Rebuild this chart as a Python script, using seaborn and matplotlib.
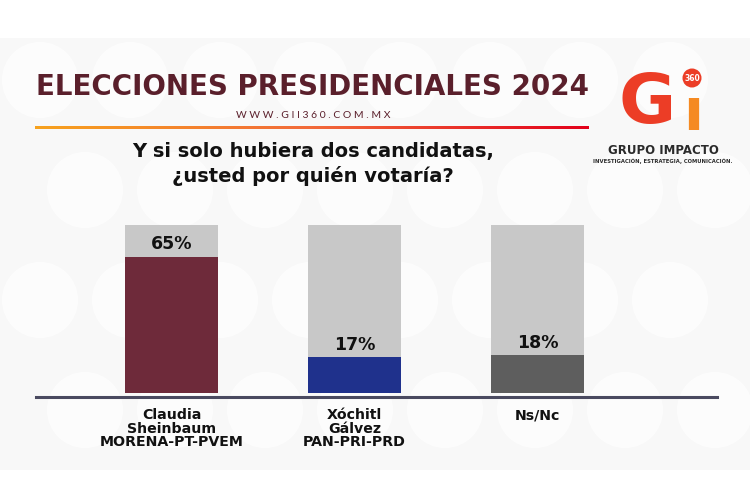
import numpy as np
import matplotlib.pyplot as plt
import seaborn as sns
import pandas as pd
from matplotlib.patches import Circle, Rectangle

# data
candidatos = ["Claudia\nSheinbaum\nMORENA-PT-PVEM", "Xóchitl\nGálvez\nPAN-PRI-PRD", "Ns/Nc"]
valores = [65, 17, 18]
fondo = [80, 80, 80]
colores = ["#6e2a3a", "#1f318c", "#5e5e5e"]
etiquetas = ["65%", "17%", "18%"]

df = pd.DataFrame({"candidato": candidatos, "valor": valores, "fondo": fondo})

sns.set_theme(style="white")
plt.rcParams["font.family"] = ["DejaVu Sans"]
HEAVY = ["DejaVu Sans"]

fig = plt.figure(figsize=(7.5, 5), dpi=100)
fig.patch.set_facecolor("white")

# decorative background pattern
bg = fig.add_axes([0, 0, 1, 1], zorder=-5)
bg.set_xlim(0, 750)
bg.set_ylim(500, 0)
bg.axis("off")
bg.add_patch(Rectangle((0, 38), 750, 432, color="#f8f8f8", lw=0))
for cx in range(40, 760, 90):
    for cy in range(80, 480, 110):
        bg.add_patch(Circle((cx + (cy // 110) % 2 * 45, cy), 38, color="white", lw=0, alpha=0.7))

# title block
fig.text(313 / 750, 1 - 87 / 500, "ELECCIONES PRESIDENCIALES 2024", ha="center", va="center",
         fontsize=20, fontweight="bold", color="#5a1f2b", family=HEAVY)
fig.text(313 / 750, 1 - 116 / 500, "W W W . G I I 3 6 0 . C O M . M X", ha="center", va="center",
         fontsize=7.5, color="#5a1f2b", family=["Lato", "DejaVu Sans"])

# gradient rule
grad = fig.add_axes([35 / 750, 1 - 129 / 500, 554 / 750, 3 / 500])
grad.imshow(np.linspace(0, 1, 256).reshape(1, -1), aspect="auto",
            cmap=sns.blend_palette(["#f7a21e", "#f26a3a", "#e3001b"], as_cmap=True))
grad.axis("off")

fig.text(313 / 750, 1 - 164 / 500, "Y si solo hubiera dos candidatas,\n¿usted por quién votaría?",
         ha="center", va="center", fontsize=14, fontweight="bold", color="#111111",
         linespacing=1.3, family=HEAVY)

# logo
fig.text(647 / 750, 1 - 104 / 500, "G", ha="center", va="center", fontsize=50,
         fontweight="bold", color="#ec3d26", family=HEAVY)
fig.text(693 / 750, 1 - 113 / 500, "ı", ha="center", va="center", fontsize=42,
         fontweight="bold", color="#f58a22", family=HEAVY)
bg.add_patch(Circle((692, 78), 9.5, color="#ec3d26", lw=0, zorder=3))
bg.text(692, 78.5, "360", ha="center", va="center", fontsize=5.5, fontweight="bold", color="white", zorder=4)
fig.text(663 / 750, 1 - 151 / 500, "GRUPO IMPACTO", ha="center", va="center", fontsize=8.5,
         fontweight="bold", color="#2b2b2b", family=HEAVY)
fig.text(663 / 750, 1 - 161 / 500, "INVESTIGACIÓN, ESTRATEGIA, COMUNICACIÓN.", ha="center",
         va="center", fontsize=3.8, fontweight="bold", color="#2b2b2b", family=HEAVY)

# chart
ax = fig.add_axes([36 / 750, 1 - 397 / 500, 681 / 750, 172 / 500])
ax.patch.set_alpha(0)
sns.barplot(data=df, x="candidato", y="fondo", color="#c8c8c8", width=0.51,
            saturation=1, linewidth=0, ax=ax, zorder=1)
sns.barplot(data=df, x="candidato", y="valor", hue="candidato", palette=colores,
            width=0.51, saturation=1, linewidth=0, legend=False, ax=ax, zorder=2)

ax.set_xlim(-0.74, 2.98)
ax.set_ylim(-1.9, 80)
for i, (v, t) in enumerate(zip(valores, etiquetas)):
    ax.text(i, v + 1.5, t, ha="center", va="bottom", fontsize=12.5, fontweight="bold",
            color="#111111", family=HEAVY)

for s in ["top", "left", "right"]:
    ax.spines[s].set_visible(False)
ax.spines["bottom"].set_color("#4a4a60")
ax.spines["bottom"].set_linewidth(2.2)
ax.set_yticks([])
ax.set_xlabel("")
ax.set_ylabel("")
ax.tick_params(axis="x", length=0, pad=8)
ax.set_xticks(range(len(candidatos)))
ax.set_xticklabels(candidatos, fontsize=10.2, fontweight="bold", color="#111111",
                   linespacing=0.95, family=HEAVY, va="top")

fig.savefig("out.png", dpi=100)
